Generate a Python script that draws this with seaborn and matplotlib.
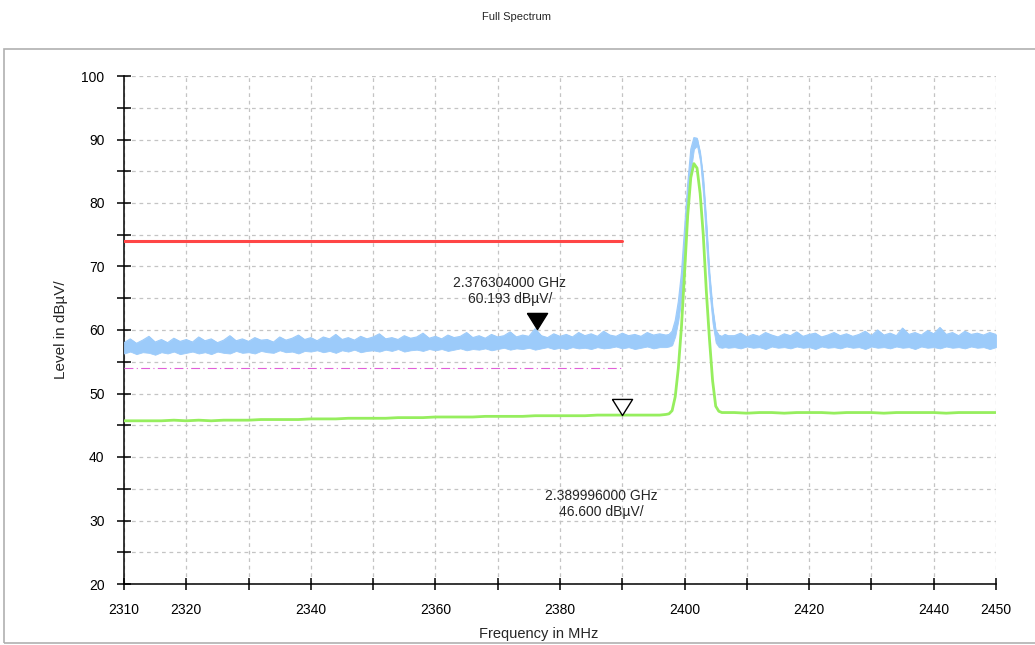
import numpy as np
import pandas as pd
import matplotlib
matplotlib.use("Agg")
import matplotlib.pyplot as plt
import matplotlib.transforms as mtransforms
from matplotlib.patches import Rectangle
import seaborn as sns

# frequency grids (MHz)
blue_freq_left = np.arange(2310, 2397, 1)
blue_freq_right = np.arange(2408, 2451, 1)
freq_peak = np.arange(2397, 2407.5, 0.5)
green_freq_left = np.arange(2310, 2397, 2)
green_freq_right = np.arange(2408, 2451, 2)

# peak-hold trace (blue): lower / upper edge of the noise band, dBuV
blue_lo_left = [56.3, 56.6, 56.2, 56.5, 56.4, 56.1, 56.5, 56.3, 56.6, 56.2,
                56.4, 56.6, 56.3, 56.5, 56.2, 56.6, 56.4, 56.3, 56.7, 56.4,
                56.5, 56.3, 56.7, 56.5, 56.4, 56.8, 56.5, 56.6, 56.3, 56.7,
                56.6, 56.8, 56.5, 56.7, 56.4, 56.8, 56.6, 56.9, 56.5, 56.7,
                56.8, 56.6, 56.9, 56.7, 57.0, 56.6, 56.8, 56.9, 56.7, 57.0,
                56.8, 57.0, 56.7, 56.9, 57.1, 56.8, 57.0, 56.9, 57.1, 56.8,
                57.0, 57.2, 56.9, 57.1, 57.0, 57.2, 56.9, 57.1, 57.3, 57.0,
                57.2, 57.0, 57.3, 57.1, 57.2, 57.0, 57.3, 57.1, 57.2, 57.4,
                57.1, 57.3, 57.0, 57.2, 57.4, 57.1, 57.3]
blue_hi_left = [58.0, 58.6, 57.9, 58.4, 59.0, 58.1, 58.5, 58.0, 58.7, 58.2,
                58.5, 58.1, 58.9, 58.3, 58.6, 58.0, 58.4, 59.1, 58.3, 58.6,
                58.2, 58.8, 58.4, 58.5, 58.1, 58.9, 58.4, 58.7, 59.2, 58.5,
                58.8, 58.3, 58.9, 58.6, 59.3, 58.5, 58.8, 58.4, 59.0, 58.6,
                58.9, 59.4, 58.6, 58.8, 58.5, 59.1, 58.7, 58.9, 59.5, 58.7,
                59.0, 58.6, 59.2, 58.8, 59.0, 59.6, 58.8, 59.1, 58.7, 59.3,
                58.9, 59.1, 59.7, 58.9, 59.2, 59.0, 60.2, 59.1, 58.8, 59.4,
                59.0, 59.3, 58.9, 59.6, 59.1, 59.4, 59.0, 59.8, 59.2, 59.0,
                59.5, 59.1, 59.3, 59.0, 59.6, 59.2, 59.4]
blue_lo_peak = [57.3, 57.4, 57.6, 59.0, 61.5, 65.0, 71.0, 78.5, 85.0, 88.5, 89.0,
                86.5, 81.0, 73.0, 66.0, 61.0, 58.0, 57.3, 57.2, 57.3, 57.2]
blue_hi_peak = [59.2, 59.3, 59.8, 61.5, 64.5, 69.0, 76.0, 83.0, 88.5, 90.3, 90.2,
                88.0, 84.0, 77.0, 69.0, 63.5, 60.0, 59.2, 59.0, 59.3, 59.1]
blue_lo_right = [57.3, 57.1, 57.4, 57.2, 57.3, 57.0, 57.4, 57.2, 57.3, 57.1,
                 57.4, 57.2, 57.3, 57.0, 57.4, 57.2, 57.3, 57.1, 57.4, 57.2,
                 57.3, 57.0, 57.4, 57.2, 57.3, 57.1, 57.4, 57.2, 57.3, 57.0,
                 57.4, 57.2, 57.3, 57.1, 57.4, 57.2, 57.3, 57.1, 57.4, 57.2,
                 57.3, 57.0, 57.3]
blue_hi_right = [59.1, 59.5, 58.9, 59.3, 59.0, 59.6, 59.2, 58.9, 59.4, 59.1,
                 59.7, 59.0, 59.3, 59.5, 58.9, 59.2, 59.6, 59.1, 59.4, 59.0,
                 59.3, 59.8, 59.1, 60.0, 59.2, 59.5, 59.1, 60.3, 59.3, 59.6,
                 59.2, 59.9, 59.4, 60.4, 59.3, 59.6, 59.1, 59.8, 59.3, 59.5,
                 59.2, 59.6, 59.3]

# average trace (green), dBuV
green_left = [45.7, 45.7, 45.7, 45.7, 45.8, 45.7, 45.8, 45.7, 45.8, 45.8, 45.8,
              45.9, 45.9, 45.9, 45.9, 46.0, 46.0, 46.0, 46.1, 46.1, 46.1, 46.1,
              46.2, 46.2, 46.2, 46.3, 46.3, 46.3, 46.3, 46.4, 46.4, 46.4, 46.4,
              46.5, 46.5, 46.5, 46.5, 46.5, 46.6, 46.6, 46.6, 46.6, 46.6, 46.6]
green_peak = [46.7, 46.8, 47.3, 49.5, 54.0, 60.5, 69.0, 78.0, 84.0, 86.2, 85.5,
              81.5, 75.0, 66.0, 58.5, 52.0, 48.0, 47.2, 47.0, 47.0, 47.0]
green_right = [47.0, 46.9, 47.0, 47.0, 46.9, 47.0, 47.0, 47.0, 46.9, 47.0, 47.0,
               47.0, 46.9, 47.0, 47.0, 47.0, 47.0, 46.9, 47.0, 47.0, 47.0, 47.0]

# limit lines (start, stop MHz; level dBuV)
peak_limit = ([2310, 2390], [74, 74])
avg_limit = ([2310, 2390], [54, 54])

# markers
marker_freqs = [2376.304, 2389.996]
marker_levels = [60.193, 46.600]
marker_texts = ["2.376304000 GHz\n60.193 dBµV/", "2.389996000 GHz\n46.600 dBµV/"]

x_ticks = list(range(2310, 2451, 10))
x_labels = ["2310", "2320", "", "2340", "", "2360", "", "2380", "",
            "2400", "", "2420", "", "2440", "2450"]
y_ticks = list(range(20, 101, 5))
y_labels = [str(v) if v % 10 == 0 else "" for v in y_ticks]

blue = pd.DataFrame({
    "freq": np.concatenate([blue_freq_left, freq_peak, blue_freq_right]),
    "lo": blue_lo_left + blue_lo_peak + blue_lo_right,
    "hi": blue_hi_left + blue_hi_peak + blue_hi_right,
})
green = pd.DataFrame({
    "freq": np.concatenate([green_freq_left, freq_peak, green_freq_right]),
    "level": green_left + green_peak + green_right,
})

sns.set_style("white")
plt.rcParams["font.family"] = ["Liberation Sans", "DejaVu Sans"]

fig = plt.figure(figsize=(10.35, 6.45), dpi=100)
ax = fig.add_axes([124 / 1035, 1 - 584 / 645, 872 / 1035, 508 / 645])

c_blue = "#9ccbfa"
c_green = "#96ee5e"

# traces
ax.fill_between(blue["freq"], blue["lo"], blue["hi"], color=c_blue, lw=0.6, zorder=3)
sns.lineplot(data=blue, x="freq", y="hi", color=c_blue, lw=0.8, ax=ax, zorder=3)
sns.lineplot(data=green, x="freq", y="level", color=c_green, lw=2.0, ax=ax, zorder=4)

# limit lines
ax.plot(*peak_limit, color="#ff4646", lw=2.2, zorder=5)
ax.plot(*avg_limit, color="#e060d8", lw=0.8, ls=(0, (8, 3, 1, 3)), zorder=5)

# markers, tip on the measured level
tri = [(-1, 0.8), (1, 0.8), (0, -0.8), (-1, 0.8)]
up = mtransforms.offset_copy(ax.transData, fig=fig, x=0, y=5.8, units="points")
ax.plot([marker_freqs[0]], [marker_levels[0]], marker=tri, ms=14.5, color="black",
        ls="none", transform=up, zorder=6)
ax.plot([marker_freqs[1]], [marker_levels[1]], marker=tri, ms=14.5, mfc="white",
        mec="black", mew=1.0, ls="none", transform=up, zorder=6)
ax.annotate(marker_texts[0], xy=(marker_freqs[0], marker_levels[0]), xytext=(-19.5, 27),
            textcoords="offset points", ha="center", va="center", multialignment="center",
            fontsize=10, linespacing=1.15, zorder=7)
ax.annotate(marker_texts[1], xy=(marker_freqs[1], marker_levels[1]), xytext=(-15, -64),
            textcoords="offset points", ha="center", va="center", multialignment="center",
            fontsize=10, linespacing=1.15, zorder=7)

# axes
ax.set_xlim(2310, 2450)
ax.set_ylim(20, 100)
ax.set_xticks(x_ticks)
ax.set_xticklabels(x_labels)
ax.set_yticks(y_ticks)
ax.set_yticklabels(y_labels)
ax.tick_params(axis="y", left=True, direction="inout", length=10, width=1.1, pad=9,
               labelsize=10, colors="black")
ax.tick_params(axis="x", bottom=True, direction="inout", length=8, width=1.1, pad=10,
               labelsize=10, colors="black")
ax.grid(True, color="#c4c4c4", ls=(0, (3, 3)), lw=0.9)
ax.set_axisbelow(True)
for side in ["top", "right"]:
    ax.spines[side].set_visible(False)
for side in ["left", "bottom"]:
    ax.spines[side].set_color("black")
    ax.spines[side].set_linewidth(1.1)
ax.set_xlabel("Frequency in MHz", fontsize=10.5)
ax.set_ylabel("Level in dBµV/", fontsize=11)
ax.xaxis.set_label_coords(0.475, -0.085)
ax.yaxis.set_label_coords(-0.064, 0.5)

# outer panel frame and title
fig.patches.append(Rectangle((4 / 1035, 2 / 645), 1.2, 594 / 645, transform=fig.transFigure,
                             fill=False, edgecolor="#b0b0b0", lw=1.2))
fig.text(517 / 1035, 1 - 17 / 645, "Full Spectrum", ha="center", va="center", fontsize=8)

fig.savefig("out.png", dpi=100)
